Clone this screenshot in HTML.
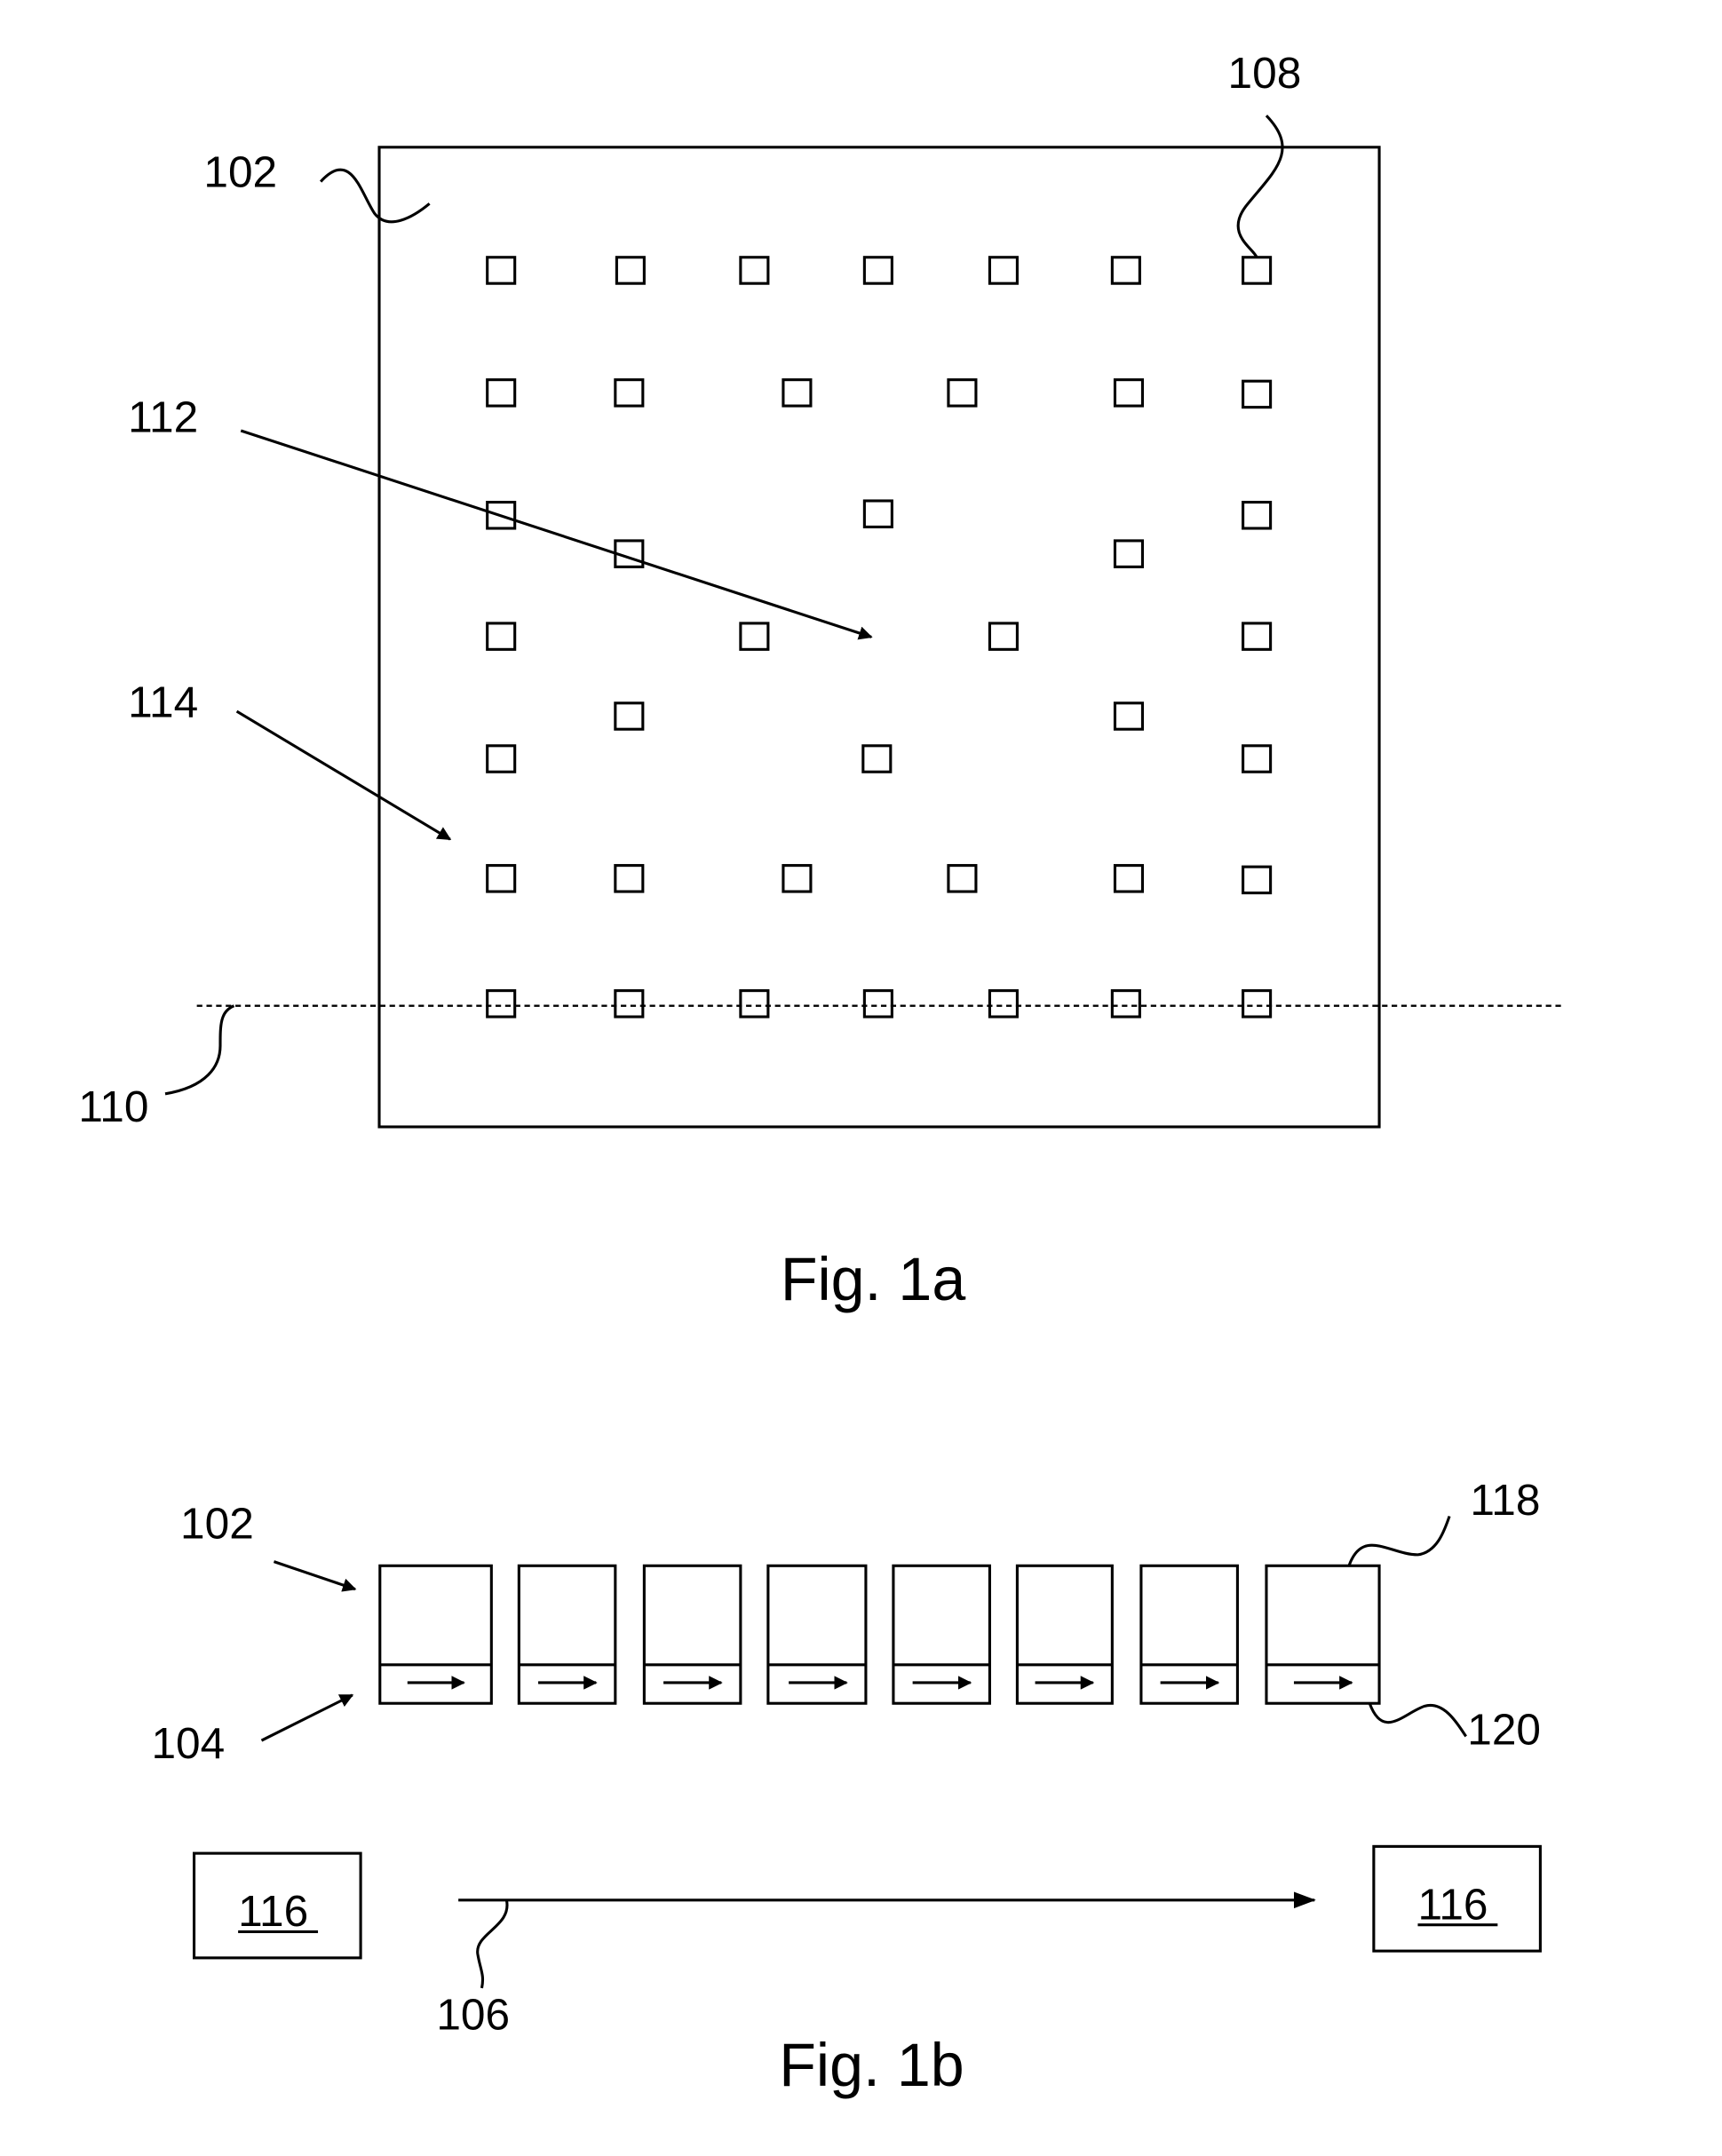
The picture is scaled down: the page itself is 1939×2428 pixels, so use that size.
<!DOCTYPE html>
<html><head><meta charset="utf-8"><style>
html,body{margin:0;padding:0;background:#fff;}
svg{display:block;}
text{font-family:"Liberation Sans",Arial,sans-serif;fill:#000;}
</style></head><body>
<svg width="1939" height="2428" viewBox="0 0 1251 1567" preserveAspectRatio="none" xmlns="http://www.w3.org/2000/svg">
<defs>
<marker id="ah" markerWidth="10" markerHeight="10" refX="9" refY="5" orient="auto" markerUnits="userSpaceOnUse" viewBox="0 0 10 10">
<path d="M0,0 L10,5 L0,10 z" fill="#000"/></marker>
<marker id="ah2" markerWidth="16" markerHeight="12" refX="15" refY="6" orient="auto" markerUnits="userSpaceOnUse" viewBox="0 0 16 12">
<path d="M0,0 L16,6 L0,12 z" fill="#000"/></marker>
</defs>
<g fill="none" stroke="#000" stroke-width="2">
<rect x="275.5" y="107" width="726.5" height="712"/>
</g>
<g fill="none" stroke="#000" stroke-width="2">
<rect x="354" y="187" width="20" height="19"/><rect x="448" y="187" width="20" height="19"/><rect x="538" y="187" width="20" height="19"/><rect x="628" y="187" width="20" height="19"/><rect x="719" y="187" width="20" height="19"/><rect x="808" y="187" width="20" height="19"/><rect x="903" y="187" width="20" height="19"/>
<rect x="354" y="276" width="20" height="19"/><rect x="447" y="276" width="20" height="19"/><rect x="569" y="276" width="20" height="19"/><rect x="689" y="276" width="20" height="19"/><rect x="810" y="276" width="20" height="19"/><rect x="903" y="277" width="20" height="19"/>
<rect x="354" y="365" width="20" height="19"/><rect x="447" y="393" width="20" height="19"/><rect x="628" y="364" width="20" height="19"/><rect x="810" y="393" width="20" height="19"/><rect x="903" y="365" width="20" height="19"/>
<rect x="354" y="453" width="20" height="19"/><rect x="538" y="453" width="20" height="19"/><rect x="719" y="453" width="20" height="19"/><rect x="903" y="453" width="20" height="19"/>
<rect x="447" y="511" width="20" height="19"/><rect x="810" y="511" width="20" height="19"/><rect x="354" y="542" width="20" height="19"/><rect x="627" y="542" width="20" height="19"/><rect x="903" y="542" width="20" height="19"/>
<rect x="354" y="629" width="20" height="19"/><rect x="447" y="629" width="20" height="19"/><rect x="569" y="629" width="20" height="19"/><rect x="689" y="629" width="20" height="19"/><rect x="810" y="629" width="20" height="19"/><rect x="903" y="630" width="20" height="19"/>
<rect x="354" y="720" width="20" height="19"/><rect x="447" y="720" width="20" height="19"/><rect x="538" y="720" width="20" height="19"/><rect x="628" y="720" width="20" height="19"/><rect x="719" y="720" width="20" height="19"/><rect x="808" y="720" width="20" height="19"/><rect x="903" y="720" width="20" height="19"/>
</g>
<line x1="143" y1="731" x2="1137" y2="731" stroke="#000" stroke-width="1.5" stroke-dasharray="4,3"/>
<g fill="none" stroke="#000" stroke-width="2">
<path d="M233,132 C255,108 262,140 272,155 C282,168 300,158 312,148"/>
<path d="M920,84 C945,110 925,125 905,150 C890,170 910,180 913,187"/>
<path d="M120,795 C150,790 160,775 160,760 C160,745 160,735 170,731"/>
<line x1="175" y1="313" x2="633" y2="463" marker-end="url(#ah)"/>
<line x1="172" y1="517" x2="327" y2="610" marker-end="url(#ah)"/>
</g>
<text x="148" y="136" font-size="32">102</text>
<text x="892" y="64" font-size="32">108</text>
<text x="93" y="314" font-size="32">112</text>
<text x="93" y="521" font-size="32">114</text>
<text x="57" y="815" font-size="32">110</text>
<text x="567" y="945" font-size="44">Fig. 1a</text>

<g fill="none" stroke="#000" stroke-width="2">
<rect x="276" y="1138" width="81" height="100"/><line x1="276" y1="1210" x2="357" y2="1210"/>
<rect x="377" y="1138" width="70" height="100"/><line x1="377" y1="1210" x2="447" y2="1210"/>
<rect x="468" y="1138" width="70" height="100"/><line x1="468" y1="1210" x2="538" y2="1210"/>
<rect x="558" y="1138" width="71" height="100"/><line x1="558" y1="1210" x2="629" y2="1210"/>
<rect x="649" y="1138" width="70" height="100"/><line x1="649" y1="1210" x2="719" y2="1210"/>
<rect x="739" y="1138" width="69" height="100"/><line x1="739" y1="1210" x2="808" y2="1210"/>
<rect x="829" y="1138" width="70" height="100"/><line x1="829" y1="1210" x2="899" y2="1210"/>
<rect x="920" y="1138" width="82" height="100"/><line x1="920" y1="1210" x2="1002" y2="1210"/>
</g>
<g stroke="#000" stroke-width="2" marker-end="url(#ah)">
<line x1="296" y1="1223" x2="337" y2="1223"/>
<line x1="391" y1="1223" x2="433" y2="1223"/>
<line x1="482" y1="1223" x2="524" y2="1223"/>
<line x1="573" y1="1223" x2="615" y2="1223"/>
<line x1="663" y1="1223" x2="705" y2="1223"/>
<line x1="752" y1="1223" x2="794" y2="1223"/>
<line x1="843" y1="1223" x2="885" y2="1223"/>
<line x1="940" y1="1223" x2="982" y2="1223"/>
</g>
<g fill="none" stroke="#000" stroke-width="2">
<line x1="199" y1="1135" x2="258" y2="1155" marker-end="url(#ah)"/>
<line x1="190" y1="1265" x2="256" y2="1232" marker-end="url(#ah)"/>
<path d="M980,1138 C990,1110 1010,1130 1030,1130 C1045,1128 1050,1110 1053,1102"/>
<path d="M995,1238 C1005,1265 1020,1245 1035,1240 C1050,1236 1060,1255 1065,1262"/>
<rect x="141" y="1347" width="121" height="76"/>
<rect x="998" y="1342" width="121" height="76"/>
<line x1="333" y1="1381" x2="955" y2="1381" marker-end="url(#ah2)"/>
<path d="M368,1381 C372,1400 345,1405 347,1420 C349,1432 352,1435 350,1445"/>
</g>
<text x="131" y="1118" font-size="32">102</text>
<text x="110" y="1278" font-size="32">104</text>
<text x="1068" y="1101" font-size="32">118</text>
<text x="1066" y="1268" font-size="32">120</text>
<text x="317" y="1475" font-size="32">106</text>
<text x="173" y="1400" font-size="32">116</text>
<line x1="173" y1="1404" x2="231" y2="1404" stroke="#000" stroke-width="2"/>
<text x="1030" y="1395" font-size="32">116</text>
<line x1="1030" y1="1399" x2="1088" y2="1399" stroke="#000" stroke-width="2"/>
<text x="566" y="1516" font-size="44">Fig. 1b</text>
</svg>
</body></html>
